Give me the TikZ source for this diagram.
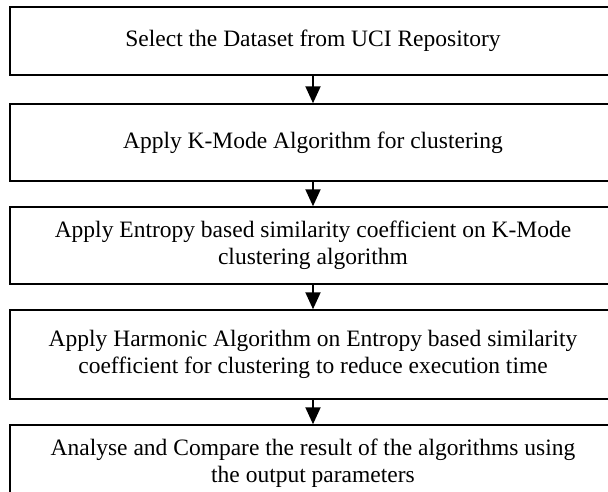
\documentclass[tikz,border=0pt]{standalone}
\usepackage{fontspec}
\setmainfont{Liberation Serif}
\usetikzlibrary{arrows.meta}
\tikzset{
  stage/.style={draw, line width=1.5pt, minimum width=606pt, align=center,
    inner sep=0pt, font=\fontsize{23.5}{27}\selectfont},
  flow/.style={line width=2pt, -{Triangle[width=15pt,length=17pt]}}
}
\begin{document}
\begin{tikzpicture}[x=1pt,y=-1pt]
    \clip (0,0) rectangle (608,491);
    \node[stage, minimum height=68pt] (select) at (313,41) {Select the Dataset from UCI Repository};
    \node[stage, minimum height=77pt] (kmode) at (313,142.5) {Apply K-Mode Algorithm for clustering};
    \node[stage, minimum height=77pt] (entropy) at (313,245.5) {Apply Entropy based similarity coefficient on K-Mode\\clustering algorithm};
    \node[stage, minimum height=89pt] (harmonic) at (313,354.5) {Apply Harmonic Algorithm on Entropy based similarity\\coefficient for clustering to reduce execution time};
    \node[stage, minimum height=77pt] (compare) at (313,463.5) {Analyse and Compare the result of the algorithms using\\the output parameters};
    \foreach \a/\b in {select/kmode,kmode/entropy,entropy/harmonic,harmonic/compare}
    \draw[flow] (\a) -- (\b);
  \end{tikzpicture}
\end{document}
